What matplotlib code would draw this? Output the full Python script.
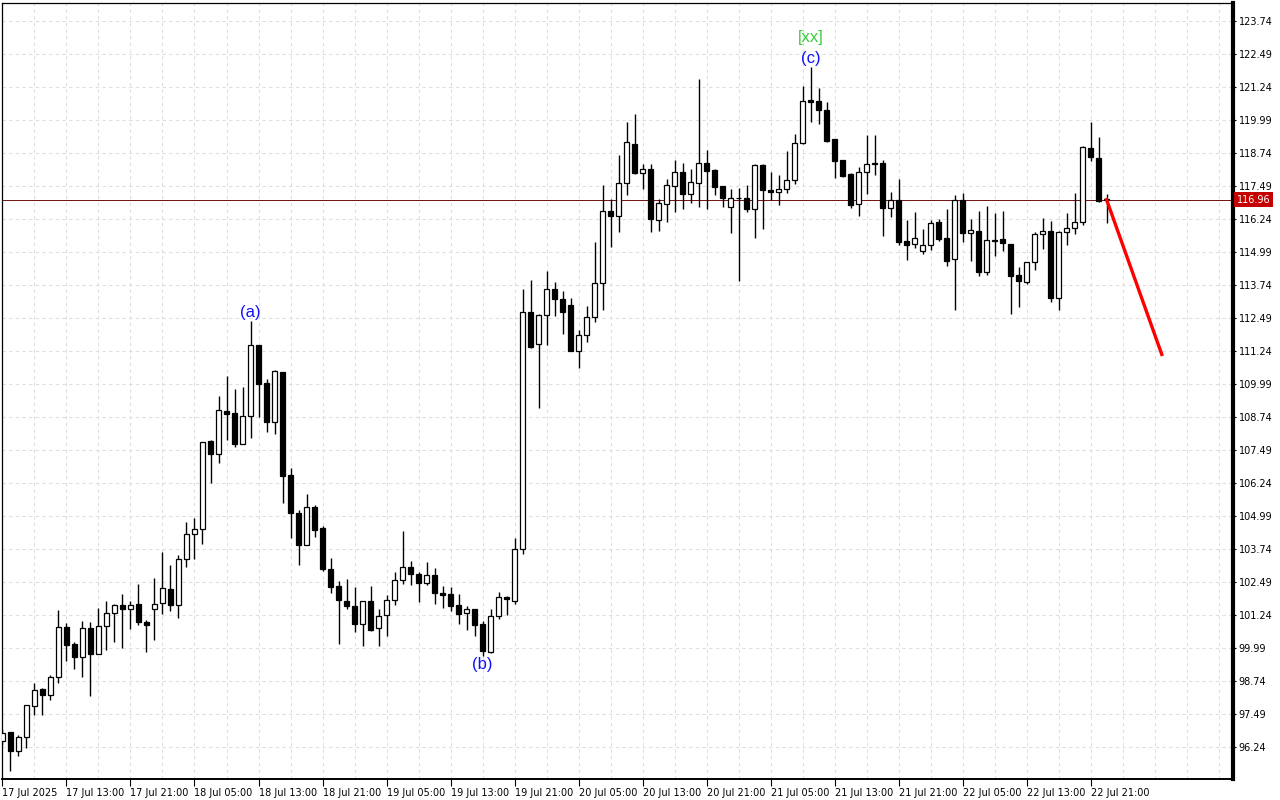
import matplotlib
matplotlib.use("Agg")
import matplotlib.pyplot as plt
import numpy as np
import pandas as pd

# hourly candles, first one 17 Jul 2025 05:00
start_time = "2025-07-17 05:00"

opens = [
    96.47, 96.79, 96.09, 96.60, 97.77, 98.43, 98.21, 98.87, 100.76, 100.12,
    99.65, 100.72, 99.76, 100.80, 101.29, 101.60, 101.47, 101.65, 100.96, 101.44,
    101.67, 102.20, 101.60, 103.34, 104.29, 104.50, 107.82, 107.34, 108.96, 108.88,
    107.72, 108.76, 111.46, 110.01, 108.55, 110.42, 106.52, 105.08, 103.89, 105.31,
    104.51, 102.99, 102.33, 101.76, 101.57, 100.88, 101.75, 100.72, 101.22, 101.79,
    102.54, 103.05, 102.78, 102.45, 102.74, 102.07, 102.04, 101.61, 101.29, 101.46,
    100.89, 99.84, 101.18, 101.90, 101.77, 103.72, 112.69, 111.48, 112.58, 113.57,
    113.19, 112.96, 111.24, 111.82, 112.53, 113.82, 116.52, 116.33, 117.58, 119.07,
    117.96, 118.11, 116.20, 116.79, 117.47, 118.00, 117.19, 117.58, 118.34, 118.08,
    117.47, 116.67, 117.02, 117.01, 116.62, 118.26, 117.32, 117.24, 117.35, 117.69,
    119.10, 120.74, 120.70, 120.37, 119.26, 118.45, 117.93, 116.79, 118.00, 118.32,
    118.35, 116.66, 116.95, 115.41, 115.27, 115.01, 115.23, 116.11, 115.51, 114.70,
    116.95, 115.69, 115.77, 114.21, 115.41, 115.46, 115.27, 114.10, 113.83, 114.59,
    115.66, 115.77, 113.22, 115.72, 115.89, 116.10, 118.91, 118.54, 116.95,
]
highs = [
    96.90, 96.80, 96.68, 97.82, 98.65, 98.46, 98.94, 101.42, 100.93, 100.21,
    101.00, 100.96, 101.49, 101.75, 101.63, 102.02, 101.75, 102.40, 101.04, 102.64,
    103.61, 103.12, 103.49, 104.75, 104.90, 107.78, 107.86, 109.51, 110.28, 109.79,
    109.86, 112.36, 111.47, 110.16, 110.51, 110.43, 106.80, 105.19, 105.81, 105.40,
    104.60, 103.39, 102.53, 102.59, 102.29, 101.75, 102.33, 101.44, 101.97, 102.86,
    104.41, 103.29, 102.86, 103.24, 103.00, 102.33, 102.29, 102.02, 101.57, 101.47,
    101.01, 101.44, 102.10, 101.95, 104.15, 113.58, 113.92, 112.62, 114.26, 113.84,
    113.50, 113.22, 112.02, 112.93, 115.36, 117.51, 116.97, 118.65, 119.90, 120.21,
    118.30, 118.30, 116.97, 117.74, 118.46, 118.34, 118.12, 121.53, 118.84, 118.12,
    117.48, 117.35, 117.39, 117.51, 118.30, 118.30, 118.00, 117.88, 118.80, 119.45,
    121.26, 121.97, 121.18, 120.67, 119.27, 118.46, 117.98, 118.21, 119.41, 119.41,
    118.46, 117.24, 117.76, 116.19, 116.49, 115.85, 116.19, 116.22, 116.61, 117.15,
    117.21, 116.23, 116.53, 116.72, 116.46, 116.53, 115.28, 114.40, 114.60, 115.72,
    116.28, 116.15, 115.77, 116.46, 117.21, 119.00, 119.90, 119.33, 117.16,
]
lows = [
    96.30, 95.33, 95.90, 96.20, 97.45, 97.45, 98.02, 98.66, 99.50, 99.19,
    98.89, 98.17, 99.74, 99.91, 100.19, 99.99, 100.71, 100.86, 99.83, 100.28,
    101.27, 101.39, 101.10, 103.04, 103.34, 103.91, 106.22, 107.00, 107.86, 107.60,
    107.70, 107.92, 108.74, 108.15, 108.07, 105.46, 104.16, 103.13, 103.88, 104.19,
    102.88, 102.05, 100.12, 101.44, 100.60, 100.07, 100.63, 100.07, 100.42, 101.62,
    102.41, 102.35, 101.73, 102.35, 101.63, 101.50, 101.39, 100.90, 100.67, 100.44,
    99.69, 99.78, 101.07, 101.22, 101.66, 103.53, 111.35, 109.06, 111.47, 112.55,
    111.88, 111.22, 110.58, 111.58, 112.34, 112.78, 115.18, 115.75, 117.15, 117.95,
    117.35, 115.75, 115.79, 116.13, 116.51, 116.62, 116.85, 116.69, 116.62, 117.15,
    116.69, 115.71, 113.89, 116.51, 115.52, 115.86, 116.94, 116.77, 117.20, 117.54,
    119.06, 119.89, 119.82, 119.15, 117.79, 117.83, 116.66, 116.35, 117.16, 117.91,
    115.58, 116.32, 115.25, 114.68, 115.14, 114.89, 115.05, 115.38, 114.46, 112.79,
    115.35, 114.63, 114.08, 114.12, 114.84, 115.01, 112.64, 112.91, 113.76, 114.31,
    115.09, 113.08, 112.77, 115.25, 115.67, 116.01, 118.44, 116.88, 116.09,
]
closes = [
    96.75, 96.09, 96.60, 97.81, 98.38, 98.21, 98.87, 100.76, 100.10, 99.65,
    100.72, 99.76, 100.80, 101.29, 101.60, 101.47, 101.60, 100.97, 100.84, 101.65,
    102.25, 101.60, 103.34, 104.29, 104.49, 107.77, 107.34, 108.98, 108.85, 107.71,
    108.76, 111.46, 109.97, 108.55, 110.46, 106.51, 105.08, 103.89, 105.31, 104.46,
    102.98, 102.30, 101.81, 101.58, 100.88, 101.75, 100.67, 101.18, 101.79, 102.54,
    103.05, 102.79, 102.45, 102.74, 102.05, 101.99, 101.58, 101.28, 101.44, 100.86,
    99.88, 101.18, 101.90, 101.82, 103.72, 112.69, 111.37, 112.58, 113.57, 113.19,
    112.69, 111.24, 111.82, 112.53, 113.82, 116.52, 116.35, 117.58, 119.13, 117.98,
    118.11, 116.22, 116.82, 117.51, 118.00, 117.19, 117.62, 118.34, 118.06, 117.45,
    117.04, 117.01, 117.00, 116.62, 118.26, 117.32, 117.24, 117.35, 117.69, 119.10,
    120.69, 120.67, 120.35, 119.19, 118.44, 117.87, 116.77, 118.00, 118.32, 118.34,
    116.66, 116.95, 115.37, 115.25, 115.50, 115.23, 116.07, 115.48, 114.65, 116.95,
    115.69, 115.80, 114.23, 115.42, 115.43, 115.31, 114.08, 113.87, 114.59, 115.66,
    115.77, 113.22, 115.72, 115.89, 116.10, 118.96, 118.57, 116.92, 116.96,
]

tick_labels = [
    "17 Jul 2025", "17 Jul 13:00", "17 Jul 21:00", "18 Jul 05:00", "18 Jul 13:00",
    "18 Jul 21:00", "19 Jul 05:00", "19 Jul 13:00", "19 Jul 21:00", "20 Jul 05:00",
    "20 Jul 13:00", "20 Jul 21:00", "21 Jul 05:00", "21 Jul 13:00", "21 Jul 21:00",
    "22 Jul 05:00", "22 Jul 13:00", "22 Jul 21:00",
]

last_price = 116.96

# projected move (bar index, price)
forecast_x = [138, 144.9]
forecast_y = [116.96, 111.10]

# wave marks: text, candle index, above/below
wave_text = ["(a)", "(b)", "(c)"]
wave_bar = [31, 60, 101]
wave_side = ["high", "low", "high"]

o = np.array(opens)
h = np.array(highs)
l = np.array(lows)
c = np.array(closes)
x = np.arange(len(o))
times = pd.date_range(start_time, periods=len(o), freq="h")

fig = plt.figure(figsize=(12.8, 8), dpi=100)
ax = fig.add_axes([2 / 1280, 21 / 800, 1231 / 1280, 776 / 800])

ax.set_xlim(-0.06, 153.8)
ax.set_ylim(95.02, 124.41)

# grid
major = np.where(times.hour % 8 == 5)[0]
ax.set_xticks(major)
ax.set_xticklabels(tick_labels, ha="left", fontsize=7)
ax.set_xticks(np.arange(0, 154, 4), minor=True)
yt = np.arange(96.24, 123.75, 1.25)
ax.set_yticks(yt)
ax.set_yticklabels([f"{v:.2f}" for v in yt], fontsize=7)
ax.grid(True, which="both", color="#dedede", linestyle=(0, (3, 3)), linewidth=0.8)
ax.set_axisbelow(True)

ax.yaxis.tick_right()
ax.tick_params(axis="y", length=2.5, width=0.8, pad=1.5, colors="black")
ax.tick_params(axis="x", which="major", length=5, width=0.8, pad=1.5)
ax.tick_params(axis="x", which="minor", length=0)
for s in ["left", "top"]:
    ax.spines[s].set_linewidth(0.9)
ax.spines["bottom"].set_linewidth(1.4)
ax.spines["right"].set_linewidth(3)

# candles
ax.vlines(x, l, h, color="black", linewidth=1, zorder=3)
up = c >= o
body = np.where(np.abs(c - o) < 0.02, 0.02, c - o)
ax.bar(x[up], body[up], bottom=o[up], width=0.55, color="white",
       edgecolor="black", linewidth=0.9, zorder=4)
ax.bar(x[~up], body[~up], bottom=o[~up], width=0.55, color="black",
       edgecolor="black", linewidth=0.9, zorder=4)

# current price line and tag
ax.axhline(last_price, color="#701010", linewidth=0.7, zorder=2)
ax.text(1.003, last_price, f"{last_price:.2f}", transform=ax.get_yaxis_transform(),
        fontsize=7, color="white", va="center", ha="left", clip_on=False,
        bbox=dict(facecolor="#c40000", edgecolor="none", pad=1.6))

# forecast
ax.plot(forecast_x, forecast_y, color="#ff0000", linewidth=2.4, zorder=5)

# wave labels
for t, i, side in zip(wave_text, wave_bar, wave_side):
    if side == "high":
        ax.annotate(t, (i, h[i]), xytext=(0, 1), textcoords="offset points",
                    ha="center", va="bottom", color="#1010ff", fontsize=12,
                    family="Liberation Sans")
    else:
        ax.annotate(t, (i, l[i]), xytext=(0, -1), textcoords="offset points",
                    ha="center", va="top", color="#1010ff", fontsize=12,
                    family="Liberation Sans")
ax.annotate("[xx]", (101, h[101]), xytext=(0, 16), textcoords="offset points",
            ha="center", va="bottom", color="#3ccc3c", fontsize=12,
            family="Liberation Sans")

fig.savefig("out.png", dpi=100)
